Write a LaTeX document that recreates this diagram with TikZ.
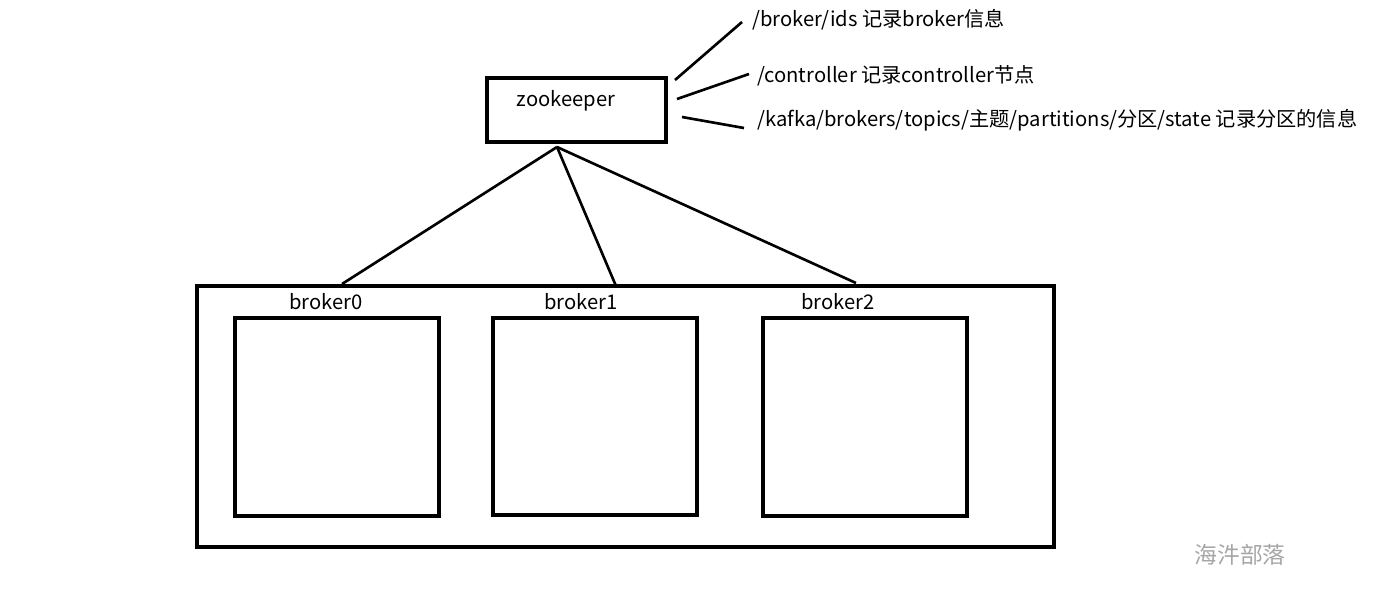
\documentclass[tikz,border=0pt]{standalone}
\usepackage{fontspec}
\setmainfont{Noto Sans CJK SC}
\usepackage{tikz}

\tikzset{
  box/.style={draw, line width=2pt, inner sep=0pt},
  wire/.style={line width=1.5pt},
  txt/.style={font=\fontsize{11.5}{13}\selectfont, inner sep=0pt},
}

\begin{document}
\begin{tikzpicture}[x=0.02cm, y=-0.02cm]
  \useasboundingbox (0,0) rectangle (1386,603);
  \node[box, minimum width=179*0.02cm, minimum height=64*0.02cm] (zk) at (576.5,110) {};
  \node[txt] (zkname) at (566,101) {zookeeper};
  \node[txt, anchor=west] (ids) at (752,20) {/broker/ids 记录broker信息};
  \node[txt, anchor=west] (ctl) at (757,76) {/controller 记录controller节点};
  \node[txt, anchor=west] (st) at (757,120) {/kafka/brokers/topics/主题/partitions/分区/state 记录分区的信息};
  \coordinate (a1) at (675,80);
  \coordinate (a2) at (742,22);
  \coordinate (b1) at (677,99);
  \coordinate (b2) at (749,74);
  \coordinate (c1) at (682,117);
  \coordinate (c2) at (744,128);
  \draw[wire] (a1) -- (a2);
  \draw[wire] (b1) -- (b2);
  \draw[wire] (c1) -- (c2);

  \node[box, minimum width=857*0.02cm, minimum height=261*0.02cm] (cluster) at (625.5,416.5) {};
  \node[txt] (n0) at (326,302) {broker0};
  \node[txt] (n1) at (581,302) {broker1};
  \node[txt] (n2) at (838,302) {broker2};
  \node[box, minimum width=204*0.02cm, minimum height=198*0.02cm] (br0) at (337,417) {};
  \node[box, minimum width=204*0.02cm, minimum height=197*0.02cm] (br1) at (595,416.5) {};
  \node[box, minimum width=204*0.02cm, minimum height=198*0.02cm] (br2) at (865,417) {};
  \coordinate (top) at (557,147);
  \coordinate (t0) at (342,284);
  \coordinate (t1) at (616,286);
  \coordinate (t2) at (856,283);
  \draw[wire] (top) -- (t0);
  \draw[wire] (top) -- (t1);
  \draw[wire] (top) -- (t2);

  \node[font=\fontsize{13}{15}\selectfont, text=black!35] (mark) at (1240,555) {海汼部落};
\end{tikzpicture}
\end{document}
